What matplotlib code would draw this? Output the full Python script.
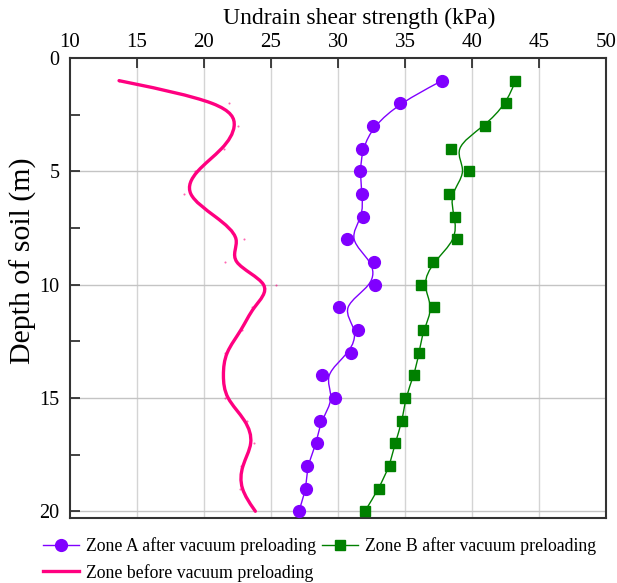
import numpy as np
import matplotlib
matplotlib.use("Agg")
import matplotlib.pyplot as plt
from matplotlib.path import Path
from matplotlib.patches import PathPatch
from matplotlib.lines import Line2D

# ---------------- data ----------------
depth = [1, 2, 3, 4, 5, 6, 7, 8, 9, 10, 11, 12, 13, 14, 15, 16, 17, 18, 19, 20]
zone_a = [37.76, 34.60, 32.64, 31.82, 31.64, 31.79, 31.90, 30.67, 32.66, 32.74,
          30.07, 31.52, 30.95, 28.84, 29.81, 28.69, 28.41, 27.69, 27.64, 27.07]
zone_b = [43.24, 42.57, 40.97, 38.46, 39.75, 38.28, 38.71, 38.88, 37.09, 36.22,
          37.18, 36.34, 36.07, 35.67, 35.03, 34.81, 34.25, 33.86, 33.04, 32.01]
zone_before = [13.66, 21.84, 22.54, 21.50, 19.30, 18.48, 20.90, 22.96, 21.60, 25.35,
               23.61, 22.84, 21.55, 21.40, 21.55, 23.20, 23.73, 22.77, 22.66, 23.83]

label_a = "Zone A after vacuum preloading"
label_b = "Zone B after vacuum preloading"
label_before = "Zone before vacuum preloading"
x_title = "Undrain shear strength (kPa)"
y_title = "Depth of soil (m)"

col_a = "#8000FF"
col_b = "#008000"
col_before = "#FF0080"

plt.rcParams['font.family'] = ['Liberation Serif', 'DejaVu Serif']


def bspline_path(xs, ys):
    """Cubic B-spline (clamped ends) with the data points as control points,
    expressed as Bezier segments for matplotlib's Path."""
    P = np.column_stack([xs, ys]).astype(float)
    P = np.vstack([P[0], P[0], P, P[-1], P[-1]])
    verts, codes = [], []
    for i in range(len(P) - 3):
        A, B, C, D = P[i:i + 4]
        s = (A + 4 * B + C) / 6
        c1 = (2 * B + C) / 3
        c2 = (B + 2 * C) / 3
        e = (B + 4 * C + D) / 6
        if i == 0:
            verts.append(s)
            codes.append(Path.MOVETO)
        verts += [c1, c2, e]
        codes += [Path.CURVE4] * 3
    return Path(verts, codes)


fig = plt.figure(figsize=(6.17, 5.83), dpi=100)
ax = fig.add_axes([70 / 617, 1 - 518 / 583, 536 / 617, 460 / 583])

ax.set_xlim(10, 50)
ax.set_ylim(20.3, 0)

# grid
for xv in [15, 20, 25, 30, 35, 40, 45]:
    ax.axvline(xv, color="#D4D4D4", lw=1.0, zorder=0)
for yv in [5, 10, 15, 20]:
    ax.axhline(yv, color="#C4C4C4", lw=1.0, zorder=0)

# curves
ax.add_patch(PathPatch(bspline_path(zone_before, depth), fill=False,
                       edgecolor=col_before, lw=2.4, zorder=3, capstyle='round'))
ax.plot(zone_before, depth, linestyle='none', marker='o', ms=1.5,
        color=col_before, mec='none', alpha=0.6, zorder=2)

ax.add_patch(PathPatch(bspline_path(zone_a, depth), fill=False,
                       edgecolor=col_a, lw=1.0, zorder=3))
ax.plot(zone_a, depth, linestyle='none', marker='o', ms=8.5,
        color=col_a, mec=col_a, zorder=4)

ax.add_patch(PathPatch(bspline_path(zone_b, depth), fill=False,
                       edgecolor=col_b, lw=1.0, zorder=3))
ax.plot(zone_b, depth, linestyle='none', marker='s', ms=7.5,
        color=col_b, mec=col_b, zorder=4)

# axes styling
ax.xaxis.tick_top()
ax.set_xticks([10, 15, 20, 25, 30, 35, 40, 45, 50])
ax.set_yticks([0, 5, 10, 15, 20])
ax.set_yticks([2.5, 7.5, 12.5, 17.5], minor=True)
ax.tick_params(axis='x', which='both', direction='in', length=7, width=1.2,
               labelsize=15, pad=4.5, top=True, bottom=False, color='#222222')
ax.tick_params(axis='y', which='both', direction='in', length=7, width=1.2,
               labelsize=14.5, pad=7.5, left=True, right=False, color='#222222')
for sp in ax.spines.values():
    sp.set_linewidth(1.5)
    sp.set_color('#333333')

fig.text(359.5 / 617, 1 - 18 / 583, x_title, ha='center', va='center', fontsize=17)
fig.text(23 / 617, 1 - 261 / 583, y_title, ha='center', va='center',
         rotation=90, fontsize=21.5)

# legend
h_a = Line2D([], [], color=col_a, lw=1.0, marker='o', ms=8.5)
h_b = Line2D([], [], color=col_b, lw=1.0, marker='s', ms=7.5)
h_before = Line2D([], [], color=col_before, lw=2.4)
fig.legend([h_a, h_before, h_b], [label_a, label_before, label_b],
           ncol=2, loc='upper left', bbox_to_anchor=(43 / 617, 1 - 537 / 583),
           frameon=False, fontsize=12.8, borderpad=0, borderaxespad=0,
           handlelength=2.0, handletextpad=0.4, columnspacing=0.35,
           labelspacing=0.5)

fig.savefig("out.png", dpi=100)
